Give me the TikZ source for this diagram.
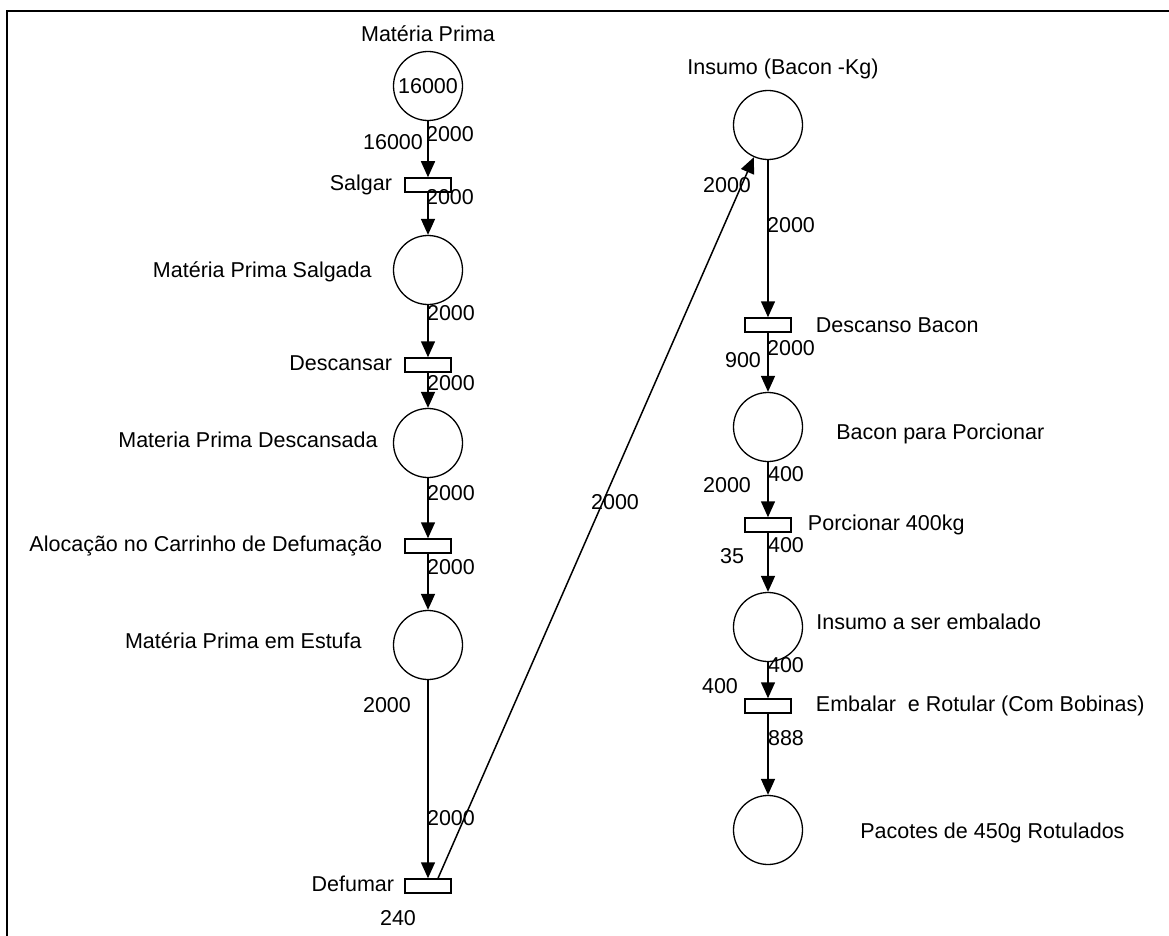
\documentclass[tikz,border=0pt]{standalone}
\usepackage{fontspec}
\setmainfont{Liberation Sans}
\usetikzlibrary{positioning, arrows.meta}

\begin{document}
\begin{tikzpicture}[x=1pt, y=-1pt,
    node distance = 12pt and 12pt,
  every node/.style = {font=\fontsize{21.5}{23}\selectfont},
       place/.style = {circle, draw, line width=1.3pt, minimum size=69pt, inner sep=0pt},
       trans/.style = {rectangle, draw, line width=1.5pt, minimum width=46pt, minimum height=14pt, inner sep=0pt},
         arc/.style = {line width=1.5pt, -{Triangle[length=16pt,width=14pt]}},
         lbl/.style = {inner sep=0pt},
      weight/.style = {inner sep=0pt}
                    ]
\useasboundingbox (0,0) rectangle (1169,936);
\draw[line width=2pt] (7,936) -- (7,11) -- (1169,11);

% left column
\node (mp)    [place] at (428,86)  {16000};
\node (salg)  [trans] at (428,185) {};
\node (mps)   [place] at (428,270) {};
\node (desc)  [trans] at (428,365) {};
\node (mpd)   [place] at (428,443) {};
\node (aloc)  [trans] at (428,546) {};
\node (mpe)   [place] at (428,645) {};
\node (defu)  [trans] at (428,886) {};

% right column
\node (ins)   [place] at (768,125) {};
\node (descb) [trans] at (768,325) {};
\node (bpp)   [place] at (768,427) {};
\node (porc)  [trans] at (768,525) {};
\node (ise)   [place] at (768,627) {};
\node (emb)   [trans] at (768,706) {};
\node (pac)   [place] at (768,830) {};

% names
\node (mpL)    [lbl, above=9pt of mp] {Matéria Prima};
\node (salgL)  [lbl, left=of salg] {Salgar};
\node (mpsL)   [lbl, left=21pt of mps, yshift=-2pt] {Matéria Prima Salgada};
\node (descL)  [lbl, left=of desc, yshift=2pt] {Descansar};
\node (mpdL)   [lbl, left=15pt of mpd, yshift=3pt] {Materia Prima Descansada};
\node (alocL)  [lbl, left=22pt of aloc] {Alocação no Carrinho de Defumação};
\node (mpeL)   [lbl, left=31pt of mpe, yshift=4pt] {Matéria Prima em Estufa};
\node (defuL)  [lbl, left=10pt of defu, yshift=2pt] {Defumar};
\node (insL)   [lbl] at (783,69) {Insumo (Bacon -Kg)};
\node (descbL) [lbl, right=24pt of descb] {Descanso Bacon};
\node (bppL)   [lbl, right=33pt of bpp, yshift=-7pt] {Bacon para Porcionar};
\node (porcL)  [lbl, right=16pt of porc] {Porcionar 400kg};
\node (iseL)   [lbl, right=13pt of ise, yshift=5pt] {Insumo a ser embalado};
\node (embL)   [lbl, right=24pt of emb] {Embalar\ \ e Rotular (Com Bobinas)};
\node (pacL)   [lbl, right=57pt of pac, yshift=-3pt] {Pacotes de 450g Rotulados};

% arcs
\draw[arc] (mp)   -- (salg);
\draw[arc] (salg) -- (mps);
\draw[arc] (mps)  -- (desc);
\draw[arc] (desc) -- (mpd);
\draw[arc] (mpd)  -- (aloc);
\draw[arc] (aloc) -- (mpe);
\draw[arc] (mpe)  -- (defu);
\draw[arc] ([xshift=10pt]defu.north) -- (ins);
\draw[arc] (ins)   -- (descb);
\draw[arc] (descb) -- (bpp);
\draw[arc] (bpp)   -- (porc);
\draw[arc] (porc)  -- (ise);
\draw[arc] (ise)   -- (emb);
\draw[arc] (emb)   -- (pac);

% weights
\node (w1)  [weight] at (393,142) {16000};
\node (w2)  [weight] at (450,134) {2000};
\node (w3)  [weight] at (450,197) {2000};
\node (w4)  [weight] at (451,313) {2000};
\node (w5)  [weight] at (451,383) {2000};
\node (w6)  [weight] at (451,493) {2000};
\node (w7)  [weight] at (451,567) {2000};
\node (w8)  [weight] at (387,705) {2000};
\node (w9)  [weight] at (451,818) {2000};
\node (w10) [weight] at (398,918) {240};
\node (w11) [weight] at (615,502) {2000};
\node (w12) [weight] at (727,185) {2000};
\node (w13) [weight] at (791,225) {2000};
\node (w14) [weight] at (743,360) {900};
\node (w15) [weight] at (791,348) {2000};
\node (w16) [weight] at (786,474) {400};
\node (w17) [weight] at (727,485) {2000};
\node (w18) [weight] at (732,556) {35};
\node (w19) [weight] at (786,545) {400};
\node (w20) [weight] at (786,665) {400};
\node (w21) [weight] at (720,686) {400};
\node (w22) [weight] at (786,738) {888};
\end{tikzpicture}
\end{document}
